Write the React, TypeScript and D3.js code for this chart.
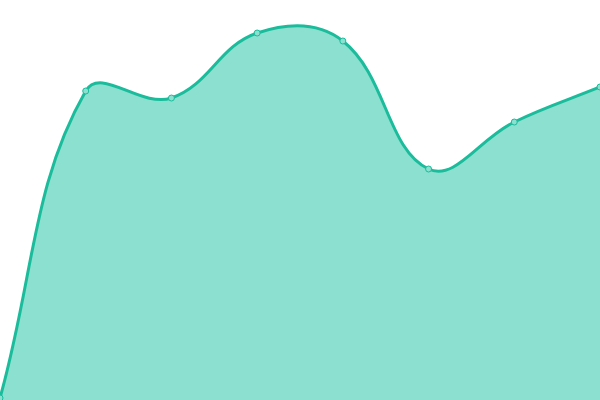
import React, { useEffect, useRef } from "react";
import * as d3 from "d3";

// category labels and their values (value axis 0..400)
const categories = ["A", "B", "C", "D", "E", "F", "G", "H"];
const values = [2, 309, 302, 367, 359, 231, 278, 313];

const WIDTH = 600;
const HEIGHT = 400;

// spline smoothing like a tension based bezier (control points weighted by segment length)
function splineCurve(tension: number) {
  return (context: any) => {
    let pts: [number, number][] = [];
    return {
      areaStart() {},
      areaEnd() {},
      lineStart() {
        pts = [];
      },
      point(x: number, y: number) {
        pts.push([+x, +y]);
      },
      lineEnd() {
        const n = pts.length;
        if (!n) return;
        const cpIn: [number, number][] = [];
        const cpOut: [number, number][] = [];
        for (let i = 0; i < n; i++) {
          const p = pts[i];
          const prev = pts[i - 1] || p;
          const next = pts[i + 1] || p;
          const d01 = Math.hypot(p[0] - prev[0], p[1] - prev[1]);
          const d12 = Math.hypot(next[0] - p[0], next[1] - p[1]);
          const sum = d01 + d12 || 1;
          const fa = (tension * d01) / sum;
          const fb = (tension * d12) / sum;
          const vx = next[0] - prev[0];
          const vy = next[1] - prev[1];
          cpIn[i] = [p[0] - fa * vx, p[1] - fa * vy];
          cpOut[i] = [p[0] + fb * vx, p[1] + fb * vy];
        }
        context.moveTo(pts[0][0], pts[0][1]);
        for (let i = 1; i < n; i++) {
          context.bezierCurveTo(
            cpOut[i - 1][0], cpOut[i - 1][1],
            cpIn[i][0], cpIn[i][1],
            pts[i][0], pts[i][1]
          );
        }
      },
    };
  };
}

export default function App() {
  const svgRef = useRef<SVGSVGElement>(null);

  useEffect(() => {
    if (!svgRef.current) return;
    const svg = d3.select(svgRef.current);
    svg.selectAll("*").remove();

    const x = d3.scalePoint<string>().domain(categories).range([0, WIDTH]);
    const y = d3.scaleLinear().domain([0, 400]).range([HEIGHT, 0]);

    const data = categories.map((c, i) => ({ c, v: values[i] }));

    const line = d3.line<{ c: string; v: number }>()
      .curve(splineCurve(0.4) as any)
      .x(d => x(d.c)!)
      .y(d => y(d.v));

    const linePath = line(data) || "";
    const first = data[0];
    const last = data[data.length - 1];
    const areaPath =
      linePath +
      `L${x(last.c)},${y(0)}L${x(first.c)},${y(0)}Z`;

    svg.append("path")
      .attr("fill", "#8be0cf")
      .attr("d", areaPath);

    svg.append("path")
      .attr("fill", "none")
      .attr("stroke", "#1abc9c")
      .attr("stroke-width", 3)
      .attr("d", linePath);

    svg.selectAll("circle.dot")
      .data(data)
      .enter()
      .append("circle")
      .attr("class", "dot")
      .attr("cx", d => x(d.c)!)
      .attr("cy", d => y(d.v))
      .attr("r", 3)
      .attr("fill", "#8be0cf")
      .attr("stroke", "#1abc9c")
      .attr("stroke-width", 1);
  }, []);

  return (
    <svg
      ref={svgRef}
      width={WIDTH}
      height={HEIGHT}
      style={{ position: "absolute", left: 0, top: 0, display: "block" }}
    />
  );
}
